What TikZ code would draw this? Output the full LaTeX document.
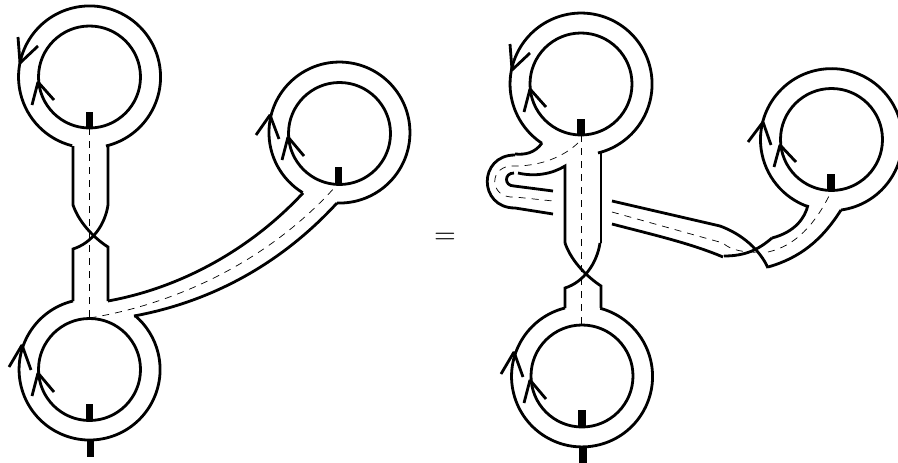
\documentclass[tikz,border=0pt]{standalone}
\tikzset{
  edge/.style={line width=2.8pt,line join=miter},
  barb/.style={line width=2.8pt,line join=bevel},
  core/.style={line width=.7pt,dash pattern=on 7pt off 6pt},
  tick/.style={fill=black,draw=none}
}
\newcommand{\headat}[6]{\draw[barb] (#3,#4) -- (#1,#2) -- (#5,#6);}
\begin{document}
\begin{tikzpicture}[x=1pt,y=-1pt]
\useasboundingbox (0,0) rectangle (898,463);
\clip (0,0) rectangle (898,463);
% ---------- left diagram
\coordinate (tl) at (89.5,77);
\coordinate (bl) at (89.5,369.5);
\coordinate (rl) at (339.5,133.5);
\draw[edge] (tl) circle[radius=51];
\draw[edge] (bl) circle[radius=51];
\draw[edge] (rl) circle[radius=51];
\draw[edge] (106,146) arc[start angle=76.6,end angle=-255.8,radius=71];
\draw[edge] (73,146) -- (73,205) .. controls (80,225) and (97,240) .. (108,247) -- (108,301);
\draw[edge] (108,146) -- (108,205) .. controls (105,225) and (92,243) .. (73,249) -- (73,301);
\draw[edge] (73,301) arc[start angle=-103.6,end angle=-410,radius=70.5];
\draw[edge] (337,203) arc[start angle=92,end angle=-238.5,radius=70.5];
\draw[edge] (108,301) .. controls (180,288) and (250,250) .. (303,193);
\draw[edge] (134,316) .. controls (210,302) and (280,265) .. (337,203);
\draw[core] (89.5,128) -- (89.5,318);
\draw[core] (89.5,318) .. controls (170,305) and (265,265) .. (336,186);
\fill[tick] (85.5,112) rectangle (92.5,128);
\fill[tick] (86,404) rectangle (93,421);
\fill[tick] (87,440) rectangle (94,457);
\fill[tick] (335,167) rectangle (342,184);
\headat{20}{63}{18}{37}{38}{46}
\headat{38}{82}{32}{105}{54}{100}
\headat{22}{345}{9}{367}{31}{370}
\headat{38}{373}{32}{396}{54}{392}
\headat{270}{115}{256}{135}{279}{139}
\headat{288}{137}{282}{160}{304}{156}
% ---------- equals sign
\node[scale=2.8,inner sep=0pt] (eq) at (445,238) {$=$};
% ---------- right diagram
\coordinate (tr) at (581,84);
\coordinate (br) at (582,376);
\coordinate (fr) at (831.5,139.5);
\draw[edge] (tr) circle[radius=51];
\draw[edge] (br) circle[radius=51];
\draw[edge] (fr) circle[radius=51];
\draw[edge] (598,153) arc[start angle=76.2,end angle=-236.5,radius=71];
\draw[edge] (542,143) .. controls (535,153) and (525,155) .. (515,154);
\draw[edge] (515,155) .. controls (478,155) and (478,208) .. (515,208) -- (553,214);
\draw[edge] (518,173) .. controls (535,177) and (552,174) .. (565,166) -- (565,243);
\draw[edge] (514,173) .. controls (504,173) and (504,186) .. (514,186) -- (553,191);
\draw[edge] (601,153) -- (601,243);
\draw[edge] (565,243) .. controls (572,263) and (589,278) .. (601,286) -- (601,308);
\draw[edge] (600,243) .. controls (597,263) and (584,282) .. (565,288) -- (565,308);
\draw[edge] (565,308) arc[start angle=-104,end angle=-435,radius=70.5];
\draw[edge] (841,210) arc[start angle=82.3,end angle=-250.3,radius=71];
\draw[edge] (612,201) -- (720,226) .. controls (742,234) and (760,250) .. (768,268);
\draw[edge] (612,224) .. controls (650,234) and (690,243) .. (723,257);
\draw[edge] (724,256) .. controls (745,256) and (758,250) .. (772,238);
\draw[edge] (772,238) .. controls (795,232) and (805,218) .. (808,205);
\draw[edge] (768,267) .. controls (800,258) and (822,240) .. (841,210);
\draw[core] (581.5,135) -- (581.5,325);
\draw[core] (578,143) .. controls (560,160) and (535,166) .. (515,166) .. controls (488,164) and (488,199) .. (515,197) -- (553,201);
\draw[core] (612,212) -- (723,243) .. controls (730,250) and (745,253) .. (760,252);
\draw[core] (768,252) .. controls (795,246) and (815,225) .. (831,192);
\fill[tick] (577,119) rectangle (585,135);
\fill[tick] (578,410) rectangle (585.5,427);
\fill[tick] (579,447) rectangle (587,463);
\fill[tick] (827,174) rectangle (835,190);
\headat{512}{70}{510}{44}{530}{53}
\headat{530}{89}{524}{112}{546}{107}
\headat{514}{352}{501}{374}{523}{377}
\headat{530}{380}{524}{403}{546}{399}
\headat{763}{122}{748}{142}{771}{145}
\headat{780}{145}{774}{167}{796}{162}
\end{tikzpicture}
\end{document}
